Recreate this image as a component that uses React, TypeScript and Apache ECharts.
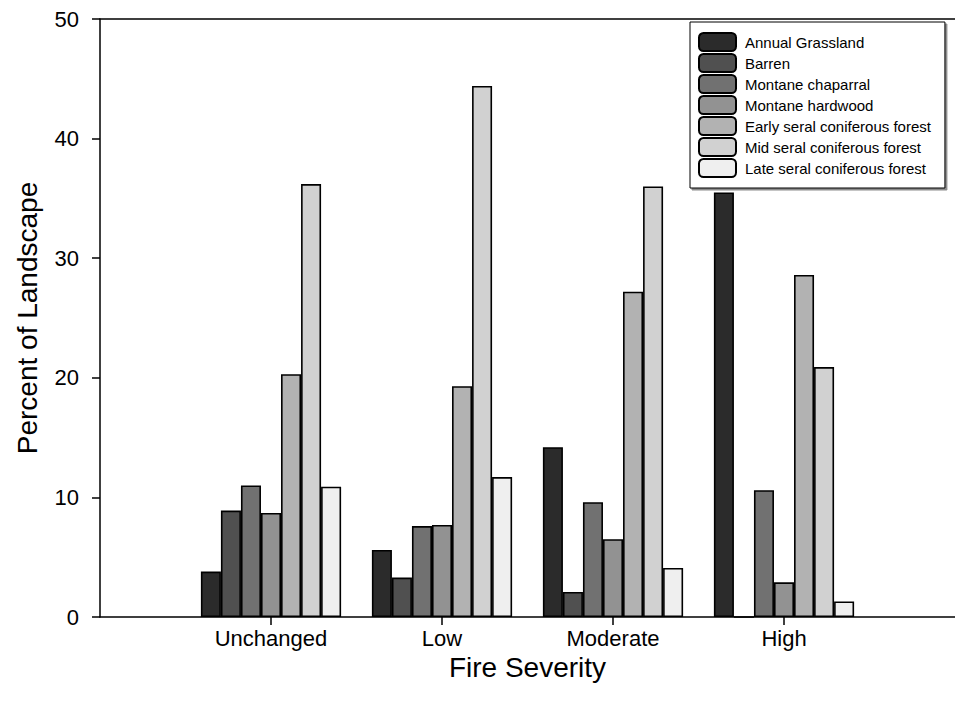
import React, { useEffect, useRef } from "react";
import * as echarts from "echarts";

const categories = ["Unchanged", "Low", "Moderate", "High"];
const seriesNames = [
  "Annual Grassland",
  "Barren",
  "Montane chaparral",
  "Montane hardwood",
  "Early seral coniferous forest",
  "Mid seral coniferous forest",
  "Late seral coniferous forest",
];
const annualGrassland = [3.8, 5.6, 14.2, 35.5];
const barren = [8.9, 3.3, 2.1, 0];
const montaneChaparral = [11.0, 7.6, 9.6, 10.6];
const montaneHardwood = [8.7, 7.7, 6.5, 2.9];
const earlySeral = [20.3, 19.3, 27.2, 28.6];
const midSeral = [36.2, 44.4, 36.0, 20.9];
const lateSeral = [10.9, 11.7, 4.1, 1.3];
const seriesValues = [annualGrassland, barren, montaneChaparral, montaneHardwood, earlySeral, midSeral, lateSeral];
const colors = ["#2b2b2b", "#505050", "#717171", "#929292", "#b2b2b2", "#d1d1d1", "#efefef"];
const yTicks = [0, 10, 20, 30, 40, 50];

const FONT = "'Liberation Sans', Arial, sans-serif";

export default function App() {
  const ref = useRef<HTMLDivElement>(null);
  useEffect(() => {
    if (!ref.current) return;
    const chart = echarts.init(ref.current, null, { renderer: "svg" });
    // padded axis: empty slot at each end so categories sit at 1..4 of a 0..5 range
    const axisData = ["", ...categories, ""];
    const inner = (i: number) => i >= 1 && i <= categories.length;
    chart.setOption({
      animation: false,
      backgroundColor: "#ffffff",
      textStyle: { fontFamily: FONT },
      grid: { left: 100, right: 0, top: 19, bottom: 94 },
      legend: {
        orient: "vertical",
        left: 690,
        top: 22,
        padding: [10, 14, 10, 8],
        itemWidth: 37,
        itemHeight: 18,
        itemGap: 1,
        backgroundColor: "#ffffff",
        borderColor: "#000000",
        borderWidth: 1,
        shadowColor: "rgba(0,0,0,0.45)",
        shadowOffsetX: 2,
        shadowOffsetY: 2,
        shadowBlur: 1,
        textStyle: { fontSize: 15, color: "#000", fontFamily: FONT, padding: [0, 0, 0, 4] },
        data: seriesNames,
      },
      xAxis: [
        {
          type: "category",
          data: axisData,
          boundaryGap: false,
          name: "Fire Severity",
          nameLocation: "middle",
          nameGap: 35,
          nameTextStyle: { fontSize: 28, color: "#000", fontFamily: FONT },
          axisLine: { lineStyle: { color: "#000", width: 1.5 } },
          axisTick: { show: true, length: 8, interval: (i: number) => inner(i), lineStyle: { color: "#000", width: 1.5 } },
          axisLabel: { interval: (i: number) => inner(i), margin: 10, fontSize: 22, color: "#000", fontFamily: FONT },
          splitLine: { show: false },
        },
        {
          type: "category",
          data: axisData,
          boundaryGap: false,
          position: "top",
          axisLine: { lineStyle: { color: "#000", width: 1.5 } },
          axisTick: { show: false },
          axisLabel: { show: false },
          splitLine: { show: false },
        },
      ],
      yAxis: {
        type: "value",
        min: yTicks[0],
        max: yTicks[yTicks.length - 1],
        interval: 10,
        name: "Percent of Landscape",
        nameLocation: "middle",
        nameGap: 59,
        nameTextStyle: { fontSize: 28, color: "#000", fontFamily: FONT },
        axisLine: { show: true, lineStyle: { color: "#000", width: 1.5 } },
        axisTick: { show: true, length: 8, lineStyle: { color: "#000", width: 1.5 } },
        axisLabel: { margin: 21, fontSize: 22, color: "#000", fontFamily: FONT },
        splitLine: { show: false },
      },
      series: seriesNames.map((name, k) => ({
        name,
        type: "bar",
        xAxisIndex: 0,
        barGap: "0%",
        barCategoryGap: "18%",
        itemStyle: { color: colors[k], borderColor: "#000", borderWidth: 1.6 },
        data: ["-", ...seriesValues[k], "-"],
      })),
    });
    return () => chart.dispose();
  }, []);
  return <div ref={ref} style={{ position: "absolute", left: 0, top: 0, width: 955, height: 711 }} />;
}
